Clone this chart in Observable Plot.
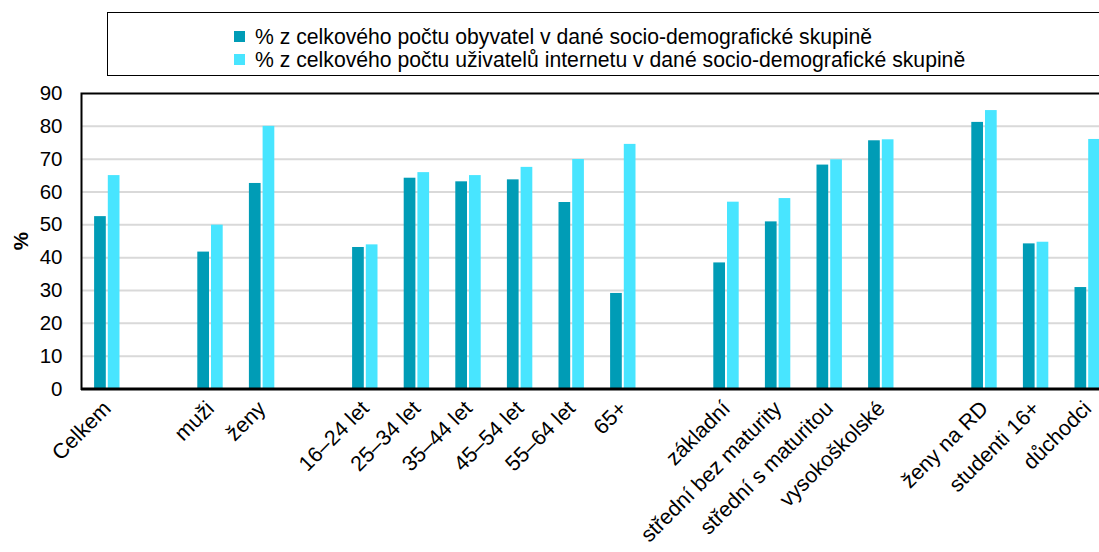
<!DOCTYPE html>
<html>
<head>
<meta charset="utf-8">
<script src="https://cdn.jsdelivr.net/npm/d3@7"></script>
<script src="https://cdn.jsdelivr.net/npm/@observablehq/plot@0.6"></script>
<style>
  html, body { margin: 0; padding: 0; background: #fff; overflow: hidden; width: 1099px; height: 552px; }
  #wrap { position: relative; width: 1099px; height: 552px; overflow: hidden; font-family: "Liberation Sans", Arial, sans-serif; }
  #legend { position: absolute; left: 107px; top: 12px; width: 1100px; height: 64px; border: 1.5px solid #000; box-sizing: border-box; background: #fff; }
  .item { position: absolute; left: 126px; font-size: 21.2px; color: #000; white-space: nowrap; line-height: 24px; }
  .sw { display: inline-block; width: 11px; height: 11px; margin-right: 10px; vertical-align: 2px; }
  #chart { position: absolute; left: 0; top: 0; }
  #chart svg { max-width: none !important; }
</style>
</head>
<body>
<div id="wrap">
  <div id="chart"></div>
  <div id="legend"></div>
</div>
<script>
// ---- data ----
const groups = [
  ["Celkem"],
  ["muži", "ženy"],
  ["16–24 let", "25–34 let", "35–44 let", "45–54 let", "55–64 let", "65+"],
  ["základní", "střední bez maturity", "střední s maturitou", "vysokoškolské"],
  ["ženy na RD", "studenti 16+", "důchodci"]
];
const populationShare = [52.5, 41.7, 62.6, 43.1, 64.2, 63.1, 63.7, 56.8, 29.1, 38.4, 50.9, 68.2, 75.6, 81.2, 44.2, 30.9];
const internetShare   = [65.0, 49.9, 80.0, 43.9, 65.9, 65.0, 67.5, 69.9, 74.5, 56.9, 58.0, 69.8, 75.9, 84.8, 44.7, 76.0];
const seriesNames = [
  "% z celkového počtu obyvatel v dané socio-demografické skupině",
  "% z celkového počtu uživatelů internetu v dané socio-demografické skupině"
];
const yTicks = [0, 10, 20, 30, 40, 50, 60, 70, 80, 90];
const colors = ["#009CB6", "#48E5FF"];

// ---- build ----
const categories = groups.flat();
const domain = [];
groups.forEach((g, i) => { if (i > 0) domain.push("\u0000gap" + i); domain.push(...g); });
const isGap = d => d.startsWith("\u0000");

const rows = categories.map((c, i) => ({cat: c, a: populationShare[i], b: internetShare[i]}));

const W = 1113, H = 552, mL = 81, mR = 0, mT = 93, mB = 163.5;
const bw = (W - mL - mR) / domain.length;
const barW = 11.7, gap = 2;

const font = "Liberation Sans, Arial, sans-serif";
const plot = Plot.plot({
  width: W, height: H,
  marginLeft: mL, marginRight: mR, marginTop: mT, marginBottom: mB,
  style: {fontFamily: font, fontSize: "21px", color: "#000", background: "transparent", maxWidth: "none"},
  x: {domain, padding: 0, round: false, axis: null},
  y: {domain: [0, 90], axis: null},
  marks: [
    Plot.gridY(yTicks.filter(t => t > 0 && t < 90), {stroke: "#d9d9d9", strokeOpacity: 1, strokeWidth: 2}),
    Plot.barY(rows, {x: "cat", y: "a", fill: colors[0], insetLeft: bw/2 - gap/2 - barW, insetRight: bw/2 + gap/2}),
    Plot.barY(rows, {x: "cat", y: "b", fill: colors[1], insetLeft: bw/2 + gap/2, insetRight: bw/2 - gap/2 - barW}),
    Plot.frame({stroke: "#000", strokeWidth: 2}),
    Plot.ruleY([0], {stroke: "#000", strokeWidth: 3}),
    Plot.axisY({ticks: yTicks, tickSize: 0, tickPadding: 19, fontSize: 20.5, label: "%", labelAnchor: "center", labelArrow: "none", labelOffset: 68}),
    Plot.axisX({tickSize: 0, tickPadding: 16, tickRotate: -45, fontSize: 21.5, tickFormat: d => isGap(d) ? "" : d, label: null})
  ]
});
document.getElementById("chart").appendChild(plot);
plot.style.maxWidth = "none";
// bold % label
plot.querySelectorAll("text").forEach(t => { if (t.textContent === "%") t.setAttribute("font-weight", "bold"); });

const legend = document.getElementById("legend");
seriesNames.forEach((n, i) => {
  const d = document.createElement("div");
  d.className = "item";
  d.style.top = (i === 0 ? 12 : 35) + "px";
  d.innerHTML = `<span class="sw" style="background:${colors[i]}"></span>` + n;
  legend.appendChild(d);
});
</script>
</body>
</html>
